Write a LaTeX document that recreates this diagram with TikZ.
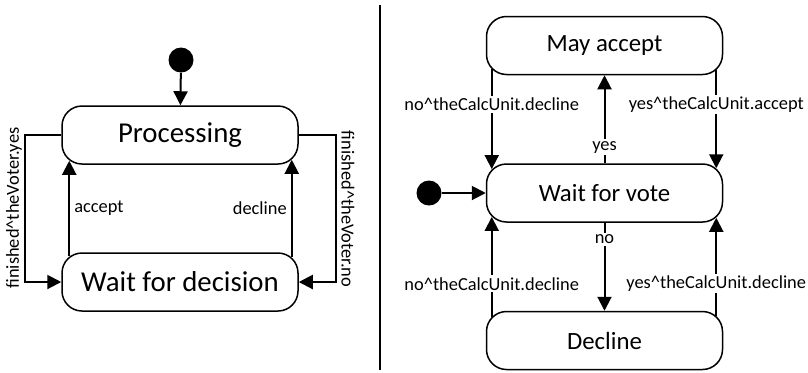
\documentclass[tikz,border=0pt]{standalone}
\usepackage{fontspec}
\setmainfont{Carlito}
\usetikzlibrary{arrows.meta}

\begin{document}
\begin{tikzpicture}[x=0.5pt,y=-0.5pt,
    statebox/.style={draw,line width=0.75pt,rounded corners=10pt,fill=white,
        minimum width=118pt,minimum height=29pt,inner sep=0pt},
    bigstate/.style={statebox,font=\fontsize{14.4}{17}\selectfont},
    smallstate/.style={statebox,font=\fontsize{12.4}{15}\selectfont},
    initdot/.style={circle,fill=black,minimum size=12.5pt,inner sep=0pt},
    trans/.style={line width=1pt,-{Triangle[length=7pt,width=7pt]}},
    lbl/.style={font=\fontsize{9.2}{11}\selectfont,inner sep=1pt},
    cutlbl/.style={lbl,fill=white}]
        \useasboundingbox (0,0) rectangle (808,372);
        % Left diagram: the voter
        \node[initdot] (init1) at (181,60) {};
        \node[bigstate] (proc) at (180,135) {Processing};
        \node[bigstate] (waitdec) at (180,282) {Wait for decision};
        \draw[trans] (init1) -- (proc);
        \draw[trans] ([xshift=4pt,yshift=-2pt]waitdec.north west)
            -- node[lbl,anchor=west,xshift=1pt] {accept} ([xshift=4pt,yshift=2pt]proc.south west);
        \draw[trans] ([xshift=-3.5pt,yshift=-2.5pt]waitdec.north east)
            -- node[lbl,anchor=east,xshift=-1pt] {decline} ([xshift=-3.5pt,yshift=2.5pt]proc.south east);
        \draw[trans] (proc.west) -- ++(-36,0) |- (waitdec.west);
        \draw[trans] (proc.east) -- ++(37,0) |- (waitdec.east);
        \node[lbl,rotate=90] (lblyes) at (14,208) {finished\textasciicircum theVoter.yes};
        \node[lbl,rotate=-90] (lblno) at (348,209) {finished\textasciicircum theVoter.no};
        % Divider
        \coordinate (divtop) at (380,5);
        \coordinate (divbot) at (380,370);
        \draw[line width=1pt] (divtop) -- (divbot);
        % Right diagram: the calculation unit
        \node[smallstate] (may) at (604.5,45.5) {May accept};
        \node[smallstate] (waitvote) at (604.5,193) {Wait for vote};
        \node[smallstate] (decl) at (604.5,340.5) {Decline};
        \node[initdot] (init2) at (429,193) {};
        \draw[trans] (init2) -- (waitvote);
        \draw[trans] (waitvote) -- node[cutlbl,pos=0.18] {yes} (may);
        \draw[trans] (waitvote) -- node[cutlbl,pos=0.19] {no} (decl);
        \draw[trans] ([xshift=3pt,yshift=2.9pt]may.south west)
            -- node[cutlbl,pos=0.35] {no\textasciicircum theCalcUnit.decline} ([xshift=3pt,yshift=-2.9pt]waitvote.north west);
        \draw[trans] ([xshift=-3.5pt,yshift=2.5pt]may.south east)
            -- node[cutlbl,pos=0.35] {yes\textasciicircum theCalcUnit.accept} ([xshift=-3.5pt,yshift=-2.5pt]waitvote.north east);
        \draw[trans] ([xshift=3pt,yshift=-2.9pt]decl.north west)
            -- node[cutlbl,pos=0.33] {no\textasciicircum theCalcUnit.decline} ([xshift=3pt,yshift=2.9pt]waitvote.south west);
        \draw[trans] ([xshift=-3.5pt,yshift=-2.5pt]decl.north east)
            -- node[cutlbl,pos=0.33] {yes\textasciicircum theCalcUnit.decline} ([xshift=-3.5pt,yshift=2.5pt]waitvote.south east);
    \end{tikzpicture}
\end{document}
